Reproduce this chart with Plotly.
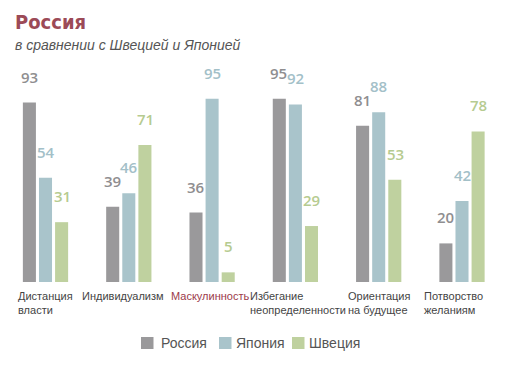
import plotly.graph_objects as go

categories = ["Дистанция<br>власти", "Индивидуализм", "Маскулинность",
              "Избегание<br>неопределенности", "Ориентация<br>на будущее", "Потворство<br>желаниям"]
series_names = ["Россия", "Япония", "Швеция"]
russia = [93, 39, 36, 95, 81, 20]
japan = [54, 46, 95, 92, 88, 42]
sweden = [31, 71, 5, 29, 53, 78]

colors = ["#9a999b", "#a9c4cb", "#bfd19f"]
label_colors = ["#8f8e90", "#a3c0c8", "#b6cb90"]
values = [russia, japan, sweden]
cat_label_shift = [0, -6, -2, 3, 0, -9]

W, H = 521, 360
T, B = 81, 86
PH = H - T - B
BASE = H - B


def px(fx):
    return fx / W


def py(fy):
    return (BASE - fy) / PH


fig = go.Figure()
for name, vals, col in zip(series_names, values, colors):
    fig.add_trace(go.Bar(x=list(range(len(categories))), y=vals, name=name, marker_color=col,
                         marker_line_width=0, showlegend=False))

annotations = []
offsets = [-16.5, 0, 16.5]
for vals, col, off in zip(values, label_colors, offsets):
    for i, v in enumerate(vals):
        annotations.append(dict(x=i, y=v, xref="x", yref="y", text=str(v), showarrow=False,
                                xshift=off, yshift=26, yanchor="middle",
                                font=dict(family="Open Sans", size=15, color=col, weight=600)))

for i, c in enumerate(categories):
    annotations.append(dict(x=i, y=0, xref="x", yref="y", text=c, showarrow=False,
                            xanchor="center", yanchor="top", align="left", yshift=-6,
                            xshift=cat_label_shift[i],
                            font=dict(family="Liberation Sans", size=11,
                                      color="#9c3a4a" if i == 2 else "#444444")))

annotations.append(dict(x=px(5), y=py(14), xref="paper", yref="paper", text="<b>Россия</b>",
                        showarrow=False, xanchor="left", yanchor="middle",
                        font=dict(family="DejaVu Sans Condensed", size=20, color="#9c4a57")))
annotations.append(dict(x=px(5), y=py(37), xref="paper", yref="paper",
                        text="<i>в сравнении с Швецией и Японией</i>",
                        showarrow=False, xanchor="left", yanchor="middle",
                        font=dict(family="Liberation Sans", size=14, color="#555555")))

# custom legend (symbol squares + labels)
shapes = []
leg_sq_x = [133, 211, 284]
leg_tx_x = [151, 226, 299]
leg_y = 335
for name, col, sx, tx in zip(series_names, colors, leg_sq_x, leg_tx_x):
    shapes.append(dict(type="rect", xref="paper", yref="paper",
                       x0=px(sx), x1=px(sx + 12.5), y0=py(leg_y - 6), y1=py(leg_y + 6),
                       fillcolor=col, line_width=0))
    annotations.append(dict(x=px(tx), y=py(leg_y), xref="paper", yref="paper", text=name,
                            showarrow=False, xanchor="left", yanchor="middle",
                            font=dict(family="Liberation Sans", size=14, color="#555555")))

unit = 83.3
x0 = -37.5 / unit
fig.update_layout(
    width=W, height=H,
    margin=dict(l=0, r=0, t=T, b=B),
    paper_bgcolor="white", plot_bgcolor="white",
    barmode="group", bargap=0.42, bargroupgap=0.19,
    xaxis=dict(range=[x0, x0 + W / unit], showticklabels=False, showgrid=False, zeroline=False, showline=False),
    yaxis=dict(range=[0, 100], visible=False),
    showlegend=False,
    annotations=annotations,
    shapes=shapes,
)
fig.write_html("out.html")
